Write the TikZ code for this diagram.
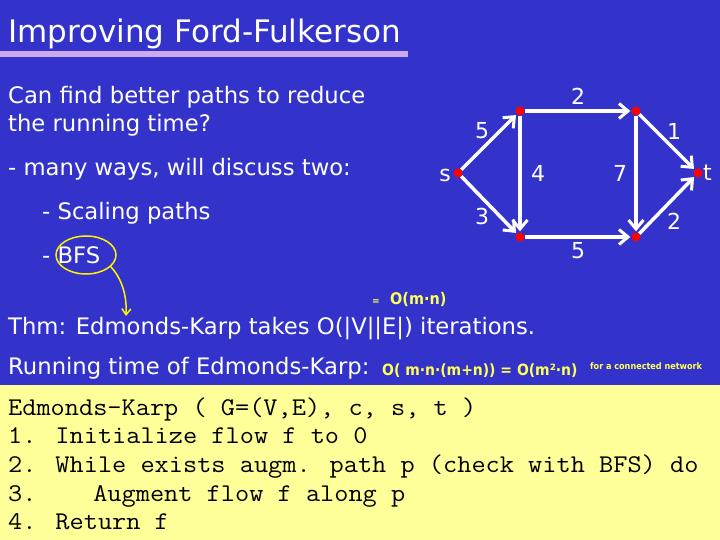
\documentclass[tikz,border=0pt]{standalone}
\usepackage{fontspec}
\setmainfont{DejaVu Sans}
\newfontfamily\codefont{Latin Modern Mono}[FakeStretch=1.08]
\newfontfamily\handfont{DejaVu Sans Condensed}
\usetikzlibrary{arrows.meta}
\definecolor{bg}{HTML}{3333CC}
\definecolor{codebg}{HTML}{FFFF99}
\definecolor{barc}{HTML}{CCAAEE}
\definecolor{hand}{HTML}{FFFF55}
\tikzset{
  txt/.style={anchor=base west, inner sep=0pt, text=white, font=\fontsize{22.7}{26}\selectfont},
  code/.style={anchor=base west, inner sep=0pt, text=black, font=\codefont\fontsize{25.5}{28}\selectfont},
  vtx/.style={circle, fill=red, inner sep=0pt, minimum size=9pt},
  edge/.style={draw=white, line width=3.5pt, -{Straight Barb[length=9pt,width=15pt,line width=3pt]}, shorten >=1pt},
  wlab/.style={text=white, inner sep=0pt, font=\fontsize{22}{25}\selectfont},
  handw/.style={anchor=base west, inner sep=0pt, text=hand, font=\handfont\bfseries\fontsize{15}{18}\selectfont}
}
\begin{document}
\begin{tikzpicture}[x=1pt,y=-1pt]
\useasboundingbox (0,0) rectangle (720,540);
\fill[bg] (0,0) rectangle (720,540);
\fill[codebg] (0,385) rectangle (720,540);
\fill[barc] (0,51) rectangle (408,57);
\node[anchor=base west, inner sep=0pt, text=white, font=\fontsize{31}{36}\selectfont] (title) at (8,43) {Improving Ford-Fulkerson};
% left text
\node[txt] (l1) at (8,104) {Can find better paths to reduce};
\node[txt] (l2) at (8,132) {the running time?};
\node[txt] (l3) at (8,176) {- many ways, will discuss two:};
\node[txt] (l4) at (42,219) {- Scaling paths};
\node[txt] (l5) at (42,263) {- BFS};
\node[txt] (l6) at (8,334) {Thm: Edmonds-Karp takes O(|V||E|) iterations.};
\node[txt] (l7) at (8,374) {Running time of Edmonds-Karp:};
% ellipse and arrow
\draw[yellow, line width=1.5pt] (86,255) ellipse [x radius=30, y radius=19];
\coordinate (arrs) at (110,266);
\coordinate (arre) at (126,316);
\draw[yellow, line width=1.5pt, -{Straight Barb[length=6pt,width=9pt]}] (arrs) .. controls (122,278) and (127,296) .. (arre);
% handwritten annotations
\node[handw, font=\handfont\bfseries\fontsize{10}{10}\selectfont] (h0) at (372,304) {=};
\node[handw, font=\handfont\bfseries\fontsize{16}{20}\selectfont] (h1) at (390,304) {O(m·n)};
\node[handw, font=\handfont\bfseries\fontsize{15.5}{20}\selectfont] (h2) at (382,375) {O( m·n·(m+n)) = O(m²·n)};
\node[handw, font=\handfont\bfseries\fontsize{9}{10}\selectfont] (h3) at (590,369) {for a connected network};
% graph
\node[vtx] (s) at (458,173) {};
\node[vtx] (a) at (520,111) {};
\node[vtx] (b) at (636,111) {};
\node[vtx] (c) at (520,237) {};
\node[vtx] (d) at (636,237) {};
\node[vtx] (t) at (698,173) {};
\node[wlab, anchor=east] (sl) at (451,175) {s};
\node[wlab, anchor=west] (tl) at (703,173) {t};
\draw[edge] (s) -- (a);
\draw[edge] (s) -- (c);
\draw[edge] (a) -- (b);
\draw[edge] (a) -- (c);
\draw[edge] (b) -- (d);
\draw[edge] (c) -- (d);
\draw[edge] (b) -- (t);
\draw[edge] (d) -- (t);
\node[wlab] (w1) at (578,96) {2};
\node[wlab] (w2) at (482,131) {5};
\node[wlab] (w3) at (674,131) {1};
\node[wlab] (w4) at (538,173) {4};
\node[wlab] (w5) at (620,173) {7};
\node[wlab] (w6) at (482,216) {3};
\node[wlab] (w7) at (674,221) {2};
\node[wlab] (w8) at (578,251) {5};
% code
\node[code] (c1) at (8,415) {Edmonds-Karp ( G=(V,E), c, s, t )};
\node[code] (c2) at (8,443.7) {1. Initialize flow f to 0};
\node[code] (c3) at (8,472.4) {2. While exists augm. path p (check with BFS) do};
\node[code] (c4) at (8,501.1) {3.\ \ \ \ Augment flow f along p};
\node[code] (c5) at (8,529.8) {4. Return f};
\end{tikzpicture}
\end{document}
